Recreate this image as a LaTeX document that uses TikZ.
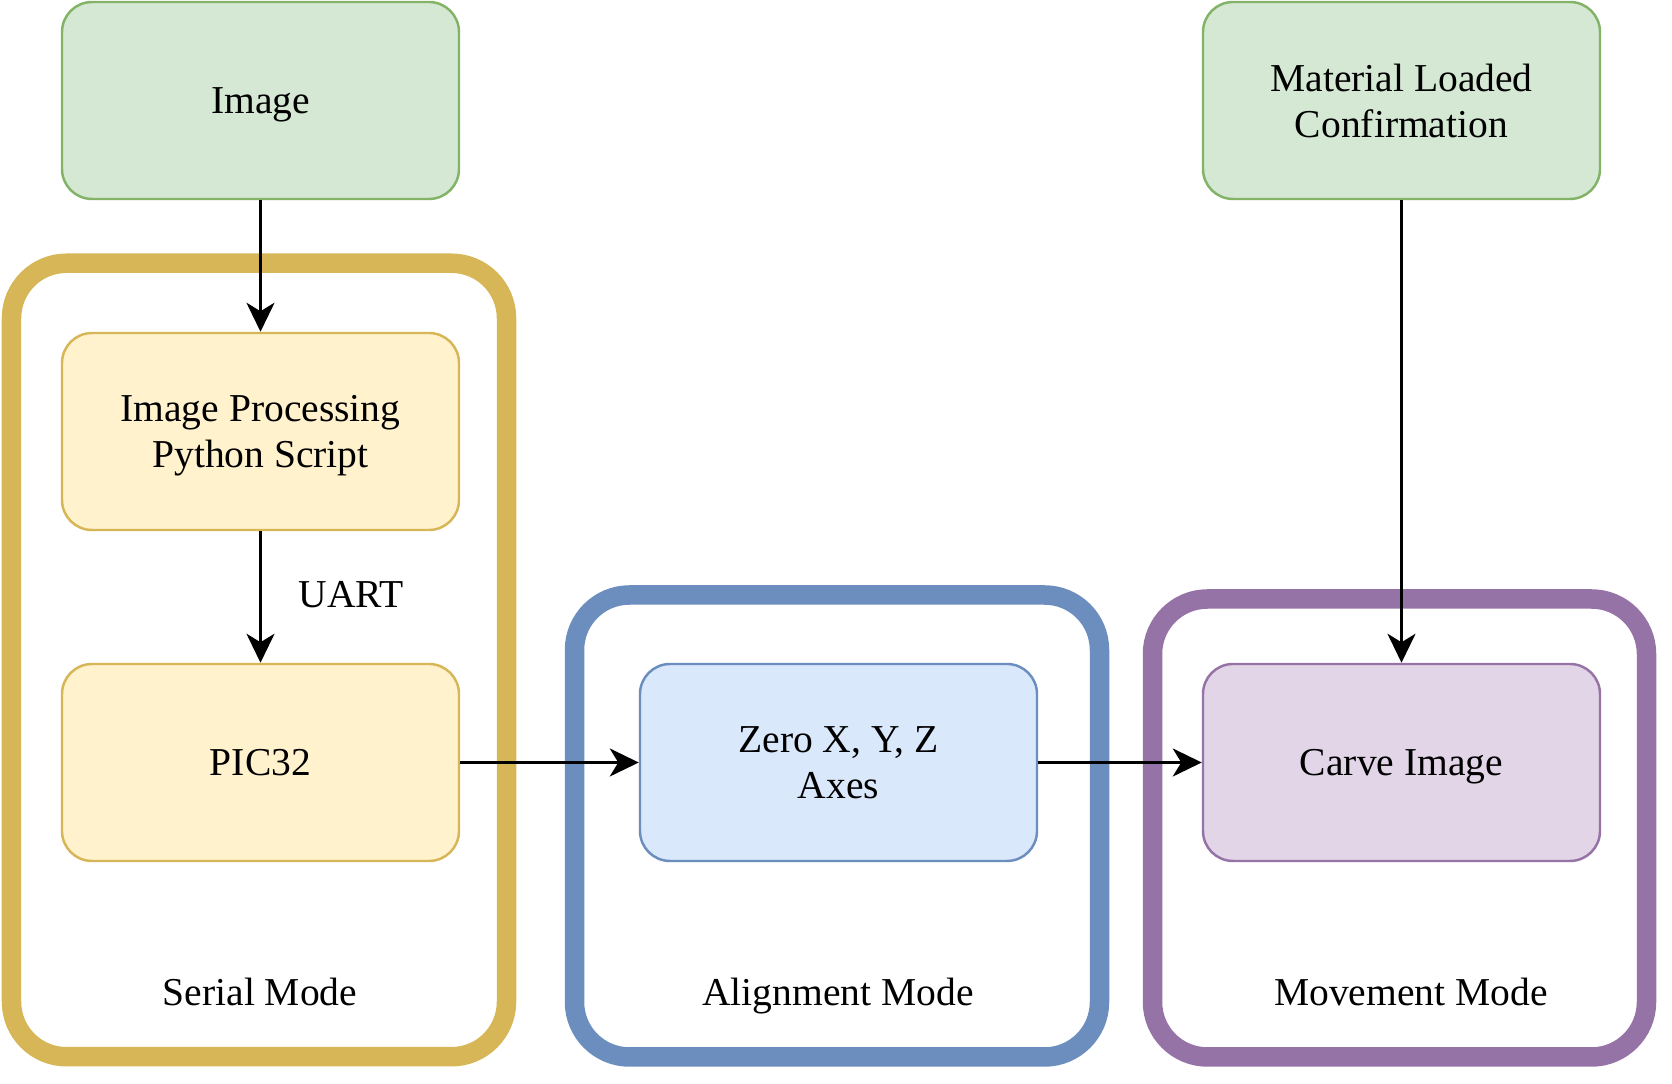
\documentclass[tikz,border=0pt]{standalone}
\usepackage{fontspec}
\setmainfont{Liberation Serif}
\usetikzlibrary{arrows.meta, positioning}
\definecolor{greenfill}{HTML}{D5E8D4}
\definecolor{greenline}{HTML}{82B366}
\definecolor{yellowfill}{HTML}{FFF2CC}
\definecolor{yellowline}{HTML}{D6B656}
\definecolor{bluefill}{HTML}{DAE8FC}
\definecolor{blueline}{HTML}{6C8EBF}
\definecolor{purplefill}{HTML}{E1D5E7}
\definecolor{purpleline}{HTML}{9673A6}
\tikzset{
  nodebase/.style={font=\fontsize{22.5}{26}\selectfont, text=black, text depth=0pt},
  block/.style={nodebase, rounded corners=0.6cm, line width=1.4pt,
    align=center, minimum width=7.94cm, minimum height=3.94cm, inner sep=0pt},
  sourceblock/.style={block, draw=greenline, fill=greenfill},
  serialblock/.style={block, draw=yellowline, fill=yellowfill},
  alignblock/.style={block, draw=blueline, fill=bluefill},
  carveblock/.style={block, draw=purpleline, fill=purplefill},
  mode/.style={rounded corners=1.1cm, line width=0.39cm, fill=white, inner sep=0pt},
  modelabel/.style={nodebase},
  arrow/.style={-{Stealth[length=0.58cm, width=0.56cm, inset=0.17cm]}, draw=black, line width=1.7pt}
}
\begin{document}
\begin{tikzpicture}[x=1cm,y=1cm]
\useasboundingbox (0,0) rectangle (33.44,21.68);

% Mode frames
\node[mode, draw=yellowline, minimum width=9.90cm, minimum height=15.87cm] (serialmode) at (5.18,8.48) {};
\node[mode, draw=blueline, minimum width=10.50cm, minimum height=9.24cm] (alignmode) at (16.74,5.16) {};
\node[mode, draw=purpleline, minimum width=9.88cm, minimum height=9.16cm] (movemode) at (27.99,5.12) {};
\node[modelabel] (seriallabel) at (5.20,1.84) {Serial Mode};
\node[modelabel] (alignlabel) at (16.76,1.84) {Alignment Mode};
\node[modelabel] (movelabel) at (28.22,1.84) {Movement Mode};

% Inputs
\node[sourceblock] (image) at (5.21,19.67) {Image};
\node[sourceblock] (material) at (28.03,19.67) {Material Loaded\\Confirmation};

% Serial mode
\node[serialblock] (script) at (5.21,13.05) {Image Processing\\Python Script};
\node[serialblock] (pic) at (5.21,6.43) {PIC32};

% Alignment and movement
\node[alignblock] (zero) at (16.77,6.43) {Zero X, Y, Z\\Axes};
\node[carveblock] (carveimg) at (28.03,6.43) {Carve Image};

% Main flow
\draw[arrow] (image) -- (script);
\draw[arrow] (script) -- node[nodebase, right=0.62cm, pos=0.48] {UART} (pic);
\draw[arrow] (pic) -- (zero);
\draw[arrow] (zero) -- (carveimg);
\draw[arrow] (material) -- (carveimg);

\end{tikzpicture}
\end{document}
